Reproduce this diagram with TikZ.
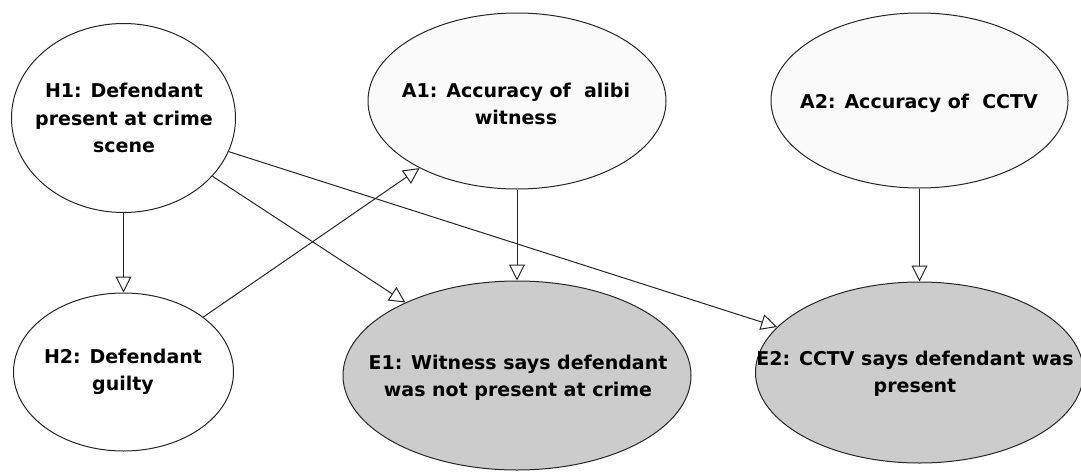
\documentclass[tikz,border=0pt]{standalone}
\usepackage{fontspec}
\setmainfont{DejaVu Sans}
\usetikzlibrary{shapes.geometric, arrows.meta}

\begin{document}
\begin{tikzpicture}[x=1pt, y=-1pt,
		bnode/.style={ellipse, draw=black!85, line width=1pt, inner sep=0pt, fill=white},
		anode/.style={bnode, fill=black!2},
		enode/.style={bnode, fill=black!20},
		lbl/.style={align=center, font=\bfseries\fontsize{19}{27.5}\selectfont},
		arr/.style={draw=black!85, line width=1pt, -{Triangle[open, length=16pt, width=16pt]}}]
		\useasboundingbox (0,0) rectangle (1081,471);
		% hypotheses
		\node[bnode, minimum width=224pt, minimum height=189pt] (H1) at (123.5,118) {};
		\node[lbl] (H1t) at (124,118) {H1: Defendant\\present at crime\\scene};
		\node[bnode, minimum width=220pt, minimum height=158pt] (H2) at (123.5,372) {};
		\node[lbl] (H2t) at (123,372) {H2: Defendant\\guilty};
		% accuracy
		\node[anode, minimum width=298pt, minimum height=176pt] (A1) at (517,101) {};
		\node[lbl] (A1t) at (516,104) {A1: Accuracy of~\ alibi\\witness};
		\node[anode, minimum width=297pt, minimum height=175pt] (A2) at (919.5,100.5) {};
		\node[lbl] (A2t) at (919,103) {A2: Accuracy of~\ CCTV};
		% evidence
		\node[enode, minimum width=348pt, minimum height=189pt] (E1) at (517,375.5) {};
		\node[lbl] (E1t) at (518,378) {E1: Witness says defendant\\was not present at crime};
		\node[enode, minimum width=328pt, minimum height=181pt] (E2) at (919.5,372.5) {};
		\node[lbl] (E2t) at (915,374) {E2: CCTV says defendant was\\present};
		% links
		\draw[arr] (H1) -- (H2);
		\draw[arr] (H1) -- (E1);
		\draw[arr] (H1) -- (E2);
		\draw[arr] (H2) -- (A1);
		\draw[arr] (A1) -- (E1);
		\draw[arr] (A2) -- (E2);
	\end{tikzpicture}
\end{document}
